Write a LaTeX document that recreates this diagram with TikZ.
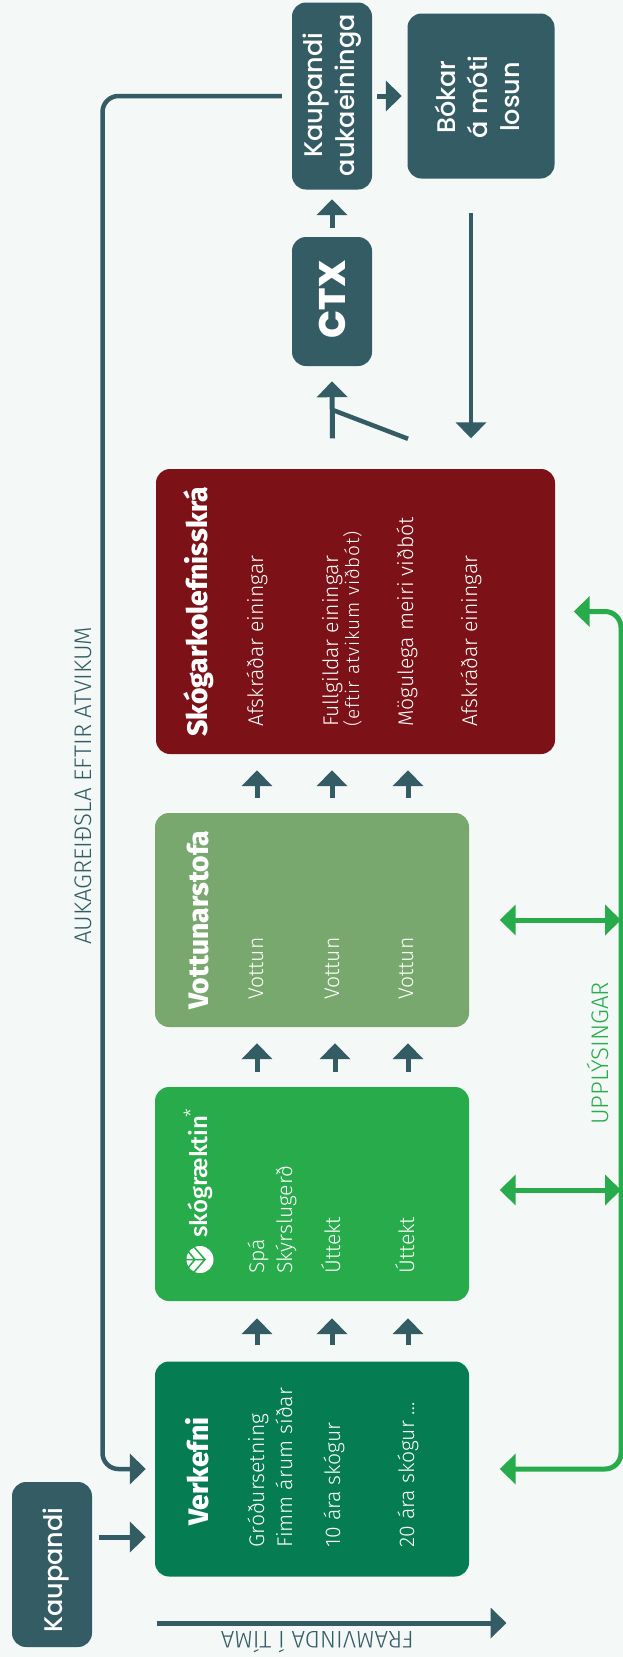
\documentclass[tikz,border=0pt]{standalone}
\usepackage{fontspec}
\setmainfont{Fira Sans Light}[BoldFont={Fira Sans ExtraBold}]
\newfontfamily\boxfont{Poppins Medium}[BoldFont={Poppins ExtraBold}]
\newfontfamily\logofont{Fira Sans Medium}
\usetikzlibrary{arrows.meta}
\tikzset{
  panel/.style = {inner sep=0pt, rounded corners=14pt},
  item/.style = {rotate=90, anchor=base west, inner sep=0pt, text=white, font=\fontsize{21.2}{21.2}\selectfont},
  heading/.style = {rotate=90, anchor=base west, inner sep=0pt, text=white, font=\bfseries\fontsize{28.2}{28.2}\selectfont},
  boxlabel/.style = {rotate=90, inner sep=0pt, text=white, align=center, font=\boxfont\fontsize{25.5}{32}\selectfont},
  caption/.style = {anchor=base west, inner sep=0pt, font=\fontsize{24}{24}\selectfont},
  flow/.style = {draw=dark, line width=5pt, -{Triangle[width=30pt,length=16pt]}},
  info/.style = {draw=leaf, line width=5pt, {Triangle[width=30pt,length=16pt]}-{Triangle[width=30pt,length=16pt]}},
}
\begin{document}
\begin{tikzpicture}[x=1pt, y=-1pt]
\definecolor{paper}{HTML}{F4F8F7}
\definecolor{dark}{HTML}{335C64}
\definecolor{pine}{HTML}{067C53}
\definecolor{leaf}{HTML}{28AC4B}
\definecolor{sage}{HTML}{78A86E}
\definecolor{wine}{HTML}{7C1217}
\useasboundingbox (0,0) rectangle (623,1657);
\fill[paper] (0,0) rectangle (623,1657);

% boxes
\node[panel, fill=dark, minimum width=80pt, minimum height=165pt] (kaupandi) at (52,1564.5) {};
\node[panel, fill=pine, minimum width=314pt, minimum height=215pt] (verkefni) at (312,1469) {};
\node[panel, fill=leaf, minimum width=314pt, minimum height=214pt] (skog) at (312,1194) {};
\node[panel, fill=sage, minimum width=314pt, minimum height=214pt] (vottun) at (312,920) {};
\node[panel, fill=wine, minimum width=399pt, minimum height=285pt] (skra) at (355.5,611.5) {};
\node[panel, fill=dark, minimum width=80pt, minimum height=129pt] (ctx) at (332,301.5) {};
\node[panel, fill=dark, minimum width=80pt, minimum height=187pt] (auka) at (332,96) {};
\node[panel, fill=dark, minimum width=147pt, minimum height=165pt] (bokar) at (481,96) {};

% single labels
\node[boxlabel] (kaupandilabel) at (56,1570) {Kaupandi};
\node[boxlabel] (aukalabel) at (332,95) {Kaupandi\\aukaeininga};
\node[boxlabel] (bokarlabel) at (477,97) {Bókar\\á móti\\losun};
\node[boxlabel, font=\boxfont\bfseries\fontsize{37}{37}\selectfont] (ctxlabel) at (332,299.5) {CTX};

% headings
\node[heading] (verkefnihead) at (208,1526) {Verkefni};
\node[heading] (vottunhead) at (208,1010) {Vottunarstofa};
\node[heading] (skrahead) at (207,737) {Skógarkolefnisskrá};

% logo
\fill[white] (200,1259.5) circle (13.5);
\draw[leaf, line width=1.5pt] (186,1259.5) -- (205,1259.5) (194,1247) -- (205,1259.5) -- (194,1272) (187,1250) -- (195,1259.5) -- (187,1269);
\node[rotate=90, anchor=base west, inner sep=0pt, text=white, font=\logofont\fontsize{24}{24}\selectfont] (skoglogo) at (207,1238) {skógræktin};
\node[rotate=90, inner sep=0pt, text=white, font=\fontsize{20}{20}\selectfont] (skogstar) at (191,1113) {*};

% column one
\node[item] (verk1) at (264,1547.5) {Gróðursetning};
\node[item] (verk2) at (292,1547.5) {Fimm árum síðar};
\node[item] (verk3) at (340,1547.5) {10 ára skógur};
\node[item] (verk4) at (414,1547.5) {20 ára skógur …};
% column two
\node[item] (skog1) at (264,1274) {Spá};
\node[item] (skog2) at (292,1274) {Skýrslugerð};
\node[item] (skog3) at (340,1274) {Úttekt};
\node[item] (skog4) at (414,1274) {Úttekt};
% column three
\node[item] (vott1) at (263,1000) {Vottun};
\node[item] (vott2) at (339,1000) {Vottun};
\node[item] (vott3) at (413,1000) {Vottun};
% column four
\node[item] (skra1) at (263,727) {Afskráðar einingar};
\node[item] (skra2) at (338,727) {Fullgildar einingar};
\node[item, font=\fontsize{19}{19}\selectfont\addfontfeature{LetterSpace=5}] (skra2b) at (359,727) {(eftir atvikum viðbót)};
\node[item] (skra3) at (413,727) {Mögulega meiri viðbót};
\node[item] (skra4) at (477,727) {Afskráðar einingar};

% side labels
\node[caption, rotate=90, text=dark] (aukagreidsla) at (91.5,945) {AUKAGREIÐSLA EFTIR ATVIKUM};
\node[caption, rotate=90, text=leaf] (upplysingar) at (608,1125) {UPPLÝSINGAR};
\node[caption, rotate=180, text=dark] (framvinda) at (414,1631) {FRAMVINDA Í TÍMA};

% arrows between columns
\draw[flow] ([xshift=-55pt,yshift=16pt]verkefni.north) -- ([xshift=-55pt,yshift=-17pt]skog.south);
\draw[flow] ([xshift=20pt,yshift=16pt]verkefni.north) -- ([xshift=20pt,yshift=-17pt]skog.south);
\draw[flow] ([xshift=96pt,yshift=16pt]verkefni.north) -- ([xshift=96pt,yshift=-17pt]skog.south);
\draw[flow] ([xshift=-55pt,yshift=15pt]skog.north) -- ([xshift=-55pt,yshift=-16pt]vottun.south);
\draw[flow] ([xshift=23pt,yshift=15pt]skog.north) -- ([xshift=23pt,yshift=-16pt]vottun.south);
\draw[flow] ([xshift=96pt,yshift=15pt]skog.north) -- ([xshift=96pt,yshift=-16pt]vottun.south);
\draw[flow] ([xshift=-55pt,yshift=15pt]vottun.north) -- ([xshift=-98.5pt,yshift=-16pt]skra.south);
\draw[flow] ([xshift=20pt,yshift=15pt]vottun.north) -- ([xshift=-23.5pt,yshift=-16pt]skra.south);
\draw[flow] ([xshift=96pt,yshift=15pt]vottun.north) -- ([xshift=52.5pt,yshift=-16pt]skra.south);

% top of the chain
\draw[flow] ([xshift=-23pt,yshift=30.5pt]skra.north) -- ([yshift=-15pt]ctx.south);
\draw[flow, line width=4.5pt] ([xshift=-10pt,yshift=-34.5pt]bokar.south) -- ([xshift=115.5pt,yshift=30.5pt]skra.north);
\draw[dark, line width=4.5pt] ([yshift=-43.5pt]ctx.south) -- ([xshift=52.5pt,yshift=30pt]skra.north);
\draw[flow] ([yshift=9pt]ctx.north) -- ([yshift=-9.5pt]auka.south);
\draw[flow] ([xshift=5pt]auka.east) -- ([xshift=-5.5pt]bokar.west);

% buyer lines
\draw[flow] ([xshift=6.5pt,yshift=27.5pt]kaupandi.east) -- ([xshift=-9pt,yshift=-68pt]verkefni.west);
\draw[flow, line width=4.5pt, rounded corners=16pt] ([xshift=-10pt]auka.west) -- (102.5,96) -- (102.5,1469) -- ([xshift=-9pt]verkefni.west);
\draw[flow] (156.5,1623) -- (506.5,1623);

% green lines
\coordinate (infotop) at (621,611.5);
\coordinate (infobot) at (621,1469);
\draw[info, rounded corners=16pt] ([xshift=30.5pt]verkefni.east) -- (infobot) -- (infotop) -- ([xshift=18.5pt]skra.east);
\draw[info] ([xshift=30.5pt]vottun.east) -- (vottun.east -| infotop);
\draw[info] ([xshift=30.5pt,yshift=4pt]skog.east) -- ([yshift=4pt]skog.east -| infotop);
\end{tikzpicture}
\end{document}
